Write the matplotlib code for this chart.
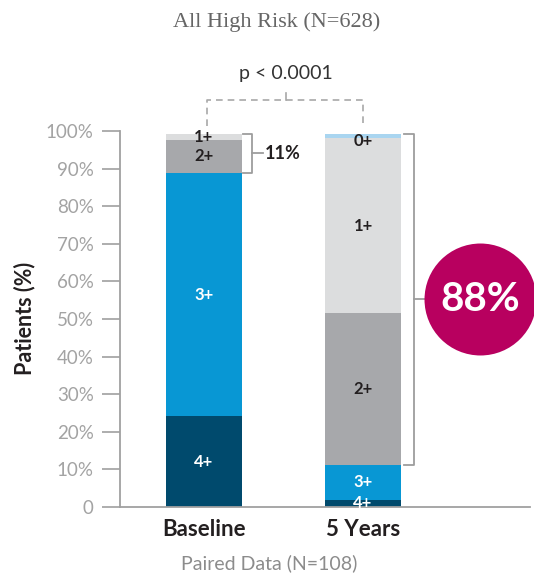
import matplotlib
matplotlib.use("Agg")
from matplotlib import pyplot as plt
import numpy as np

categories = ['Baseline', '5 Years']
grades = ['4+', '3+', '2+', '1+', '0+']
baseline = [24.2, 64.6, 8.9, 1.6, 0.0]
five_years = [1.9, 9.3, 40.3, 46.7, 1.1]

grade_colors = ['#004a6d', '#0897d4', '#a7a8ab', '#dcddde', '#a9d5f0']
label_colors = ['white', 'white', '#231f20', '#231f20', '#231f20']

y_ticks = [0, 10, 20, 30, 40, 50, 60, 70, 80, 90, 100]
y_ticklabels = ['0'] + [f'{t}%' for t in y_ticks[1:]]

title = 'All High Risk (N=628)'
subtitle = 'Paired Data (N=108)'
p_text = 'p < 0.0001'
baseline_note = '11%'
five_year_note = '88%'

plt.rcParams['font.family'] = ['Lato', 'DejaVu Sans']

fig = plt.figure(figsize=(5.34, 5.76), dpi=100)
ax = fig.add_axes([120 / 534, 69 / 576, 410 / 534, 376 / 576])

x = np.arange(len(categories))
width = 0.478
series = np.array([baseline, five_years])  # rows: category, cols: grade

bottoms = np.zeros(len(categories))
for g, grade in enumerate(grades):
    vals = series[:, g]
    ax.bar(x, vals, width, bottom=bottoms, color=grade_colors[g], linewidth=0, zorder=2)
    for i in range(len(categories)):
        if vals[i] <= 0:
            continue
        yc = bottoms[i] + vals[i] / 2
        if vals[i] < 1.5 and g == len(grades) - 1:
            yc -= 1.4
        ax.text(x[i], yc, grade, ha='center', va='center', fontsize=12,
                fontweight='bold', color=label_colors[g], zorder=3)
    bottoms += vals

ax.set_xlim(-0.528, 2.05)
ax.set_ylim(0, 100)
ax.set_yticks(y_ticks)
ax.set_yticklabels(y_ticklabels)
ax.set_xticks(x)
ax.set_xticklabels(categories, fontsize=16, fontweight='bold', color='#231f20')
ax.tick_params(axis='x', length=0, pad=9)
ax.tick_params(axis='y', length=13, width=1.2, color='#a0a0a0', labelcolor='#a3a3a3',
               labelsize=13.5, pad=6)
for s in ['top', 'right']:
    ax.spines[s].set_visible(False)
for s in ['left', 'bottom']:
    ax.spines[s].set_color('#a0a0a0')
    ax.spines[s].set_linewidth(1.3)

line_kw = dict(color='#9d9d9d', lw=1.3, clip_on=False, zorder=1)

# 11% bracket on baseline (2+ and 1+)
b_lo = baseline[0] + baseline[1]
b_hi = sum(baseline)
ax.plot([0.245, 0.30, 0.30, 0.245], [b_hi, b_hi, b_lo, b_lo], **line_kw)
b_mid = (b_lo + b_hi) / 2
ax.plot([0.30, 0.37], [b_mid, b_mid], **line_kw)
ax.text(0.385, b_mid, baseline_note, ha='left', va='center', fontsize=13,
        fontweight='bold', color='#231f20')

# 88% bracket on 5 years (2+, 1+, 0+)
f_lo = five_years[0] + five_years[1]
f_hi = sum(five_years)
ax.plot([1.258, 1.32, 1.32, 1.258], [f_hi, f_hi, f_lo, f_lo], **line_kw)
f_mid = (f_lo + f_hi) / 2
ax.plot([1.32, 1.39], [f_mid, f_mid], **line_kw)
ax.scatter([1.736], [f_mid], s=6500, color='#b8005f', clip_on=False, zorder=3, linewidths=0)
ax.text(1.736, f_mid, five_year_note, ha='center', va='center', fontsize=29,
        fontweight='bold', color='white', zorder=4)

# p-value dashed bracket
dash_kw = dict(color='#a8a8a8', lw=1.2, ls=(0, (4, 3)), clip_on=False)
ax.plot([0.02, 0.02, 0.997, 0.997], [101.2, 108.2, 108.2, 101.2], **dash_kw)
ax.plot([0.516, 0.516], [108.2, 110.2], color='#a8a8a8', lw=1.2, clip_on=False)
ax.text(0.516, 115.2, p_text, ha='center', va='center', fontsize=14, color='#333333')

fig.text(25 / 534, 1 - 318 / 576, 'Patients (%)', rotation=90, ha='center', va='center',
         fontsize=15.5, fontweight='bold', color='#231f20')
fig.text(277 / 534, 1 - 22 / 576, title, ha='center', va='center', fontsize=16,
         color='#666666', family=['Liberation Serif', 'DejaVu Serif'])
fig.text(269 / 534, 1 - 563 / 576, subtitle, ha='center', va='center', fontsize=14,
         color='#8c8c8c')

fig.savefig('out.png', dpi=100)
